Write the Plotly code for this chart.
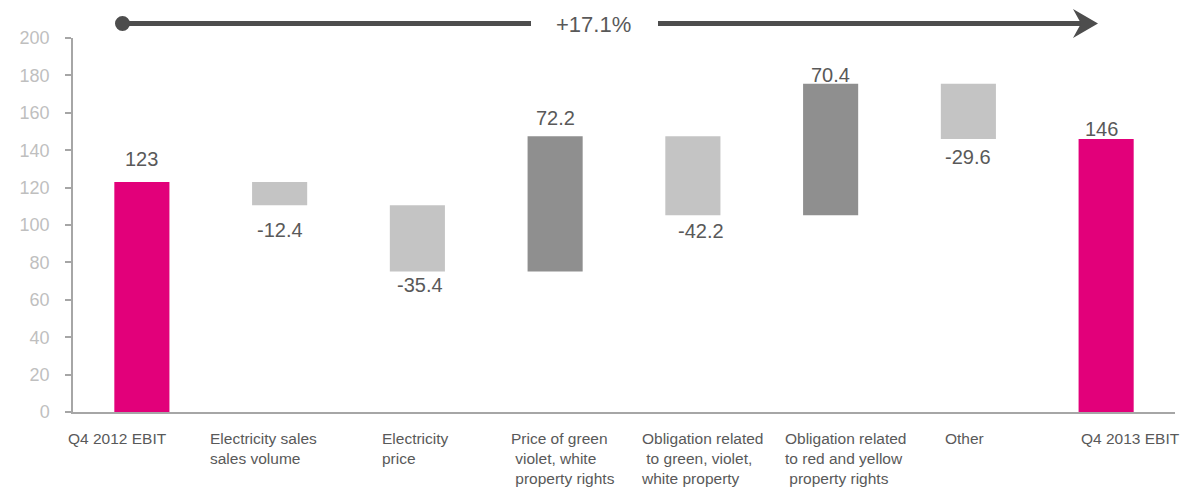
import plotly.graph_objects as go

# ---- data ----
categories = [
    "Q4 2012 EBIT",
    "Electricity sales<br>sales volume",
    "Electricity<br>price",
    "Price of green<br>\u00a0violet, white<br>\u00a0property rights",
    "Obligation related<br>\u00a0to green, violet,<br>white property",
    "Obligation related<br>to red and yellow<br>\u00a0property rights",
    "Other",
    "Q4 2013 EBIT",
]
values = [123, -12.4, -35.4, 72.2, -42.2, 70.4, -29.6, 146]
measures = ["absolute", "relative", "relative", "relative", "relative", "relative", "relative", "total"]
value_labels = ["123", "-12.4", "-35.4", "72.2", "-42.2", "70.4", "-29.6", "146"]
change_label = "+17.1%"
y_ticks = list(range(0, 201, 20))

# ---- styles ----
FONT = "Arial, Liberation Sans, sans-serif"
MAGENTA = "#E2007A"
DARK = "#8F8F8F"
LIGHT = "#C4C4C4"
TEXT = "#595959"
AXIS = "#A6A6A6"
ARROW = "#4D4D4D"

# per-label fine offsets (pixels) to mimic the original placement
label_yshift = [10, -12, -1, 5, -3, -4, -5, -3]
label_xshift = [0, 0, 3, 0, 8, 0, 0, -5]
cat_xshift = [-76, -72, -37, -46, -54, -48, -25, -27]

# page has an 8px body margin; size the figure so it ends at the window edge
PAGE = 8
W, H = 1191, 488
ML, MR, MT, MB = 73 - PAGE, 16, 38 - PAGE, 76
PL, PR, PT, PB = 73, W - MR, 38, H - MB   # plot area in window pixels


def px(xp):
    return (xp - PL) / (PR - PL)


def py(yp):
    return (PB - yp) / (PB - PT)


fig = go.Figure()
fig.add_trace(go.Waterfall(
    x=list(range(len(categories))),
    y=values,
    measure=measures,
    textposition="none",
    connector=dict(visible=False),
    increasing=dict(marker=dict(color=DARK, line=dict(width=0))),
    decreasing=dict(marker=dict(color=LIGHT, line=dict(width=0))),
    totals=dict(marker=dict(color=MAGENTA, line=dict(width=0))),
    hoverinfo="skip",
))

annotations = []
# value labels computed from the running total
running = 0
for i, (v, m, lab) in enumerate(zip(values, measures, value_labels)):
    if m == "absolute":
        start, end = 0, v
        running = v
    elif m == "total":
        start, end = 0, running
    else:
        start, end = running, running + v
        running = end
    up = end >= start
    annotations.append(dict(x=i, y=end, xref="x", yref="y", text=lab, showarrow=False,
                            yanchor="bottom" if up else "top", xanchor="center",
                            yshift=label_yshift[i], xshift=label_xshift[i],
                            font=dict(family=FONT, size=20, color=TEXT)))

# category labels
for i, c in enumerate(categories):
    annotations.append(dict(x=i, y=0, xref="x", yref="paper", text=c, showarrow=False,
                            xanchor="left", yanchor="top", align="left",
                            xshift=cat_xshift[i], yshift=-16,
                            font=dict(family=FONT, size=15.5, color=TEXT)))

# top change label
annotations.append(dict(x=px(593), y=py(24), xref="paper", yref="paper", text=change_label,
                        showarrow=False, xanchor="center", yanchor="middle",
                        font=dict(family=FONT, size=22, color=TEXT)))

ay = 23.5
shapes = [
    dict(type="line", xref="paper", yref="paper", x0=px(122.5), x1=px(531), y0=py(ay), y1=py(ay),
         line=dict(color=ARROW, width=5)),
    dict(type="line", xref="paper", yref="paper", x0=px(658), x1=px(1084), y0=py(ay), y1=py(ay),
         line=dict(color=ARROW, width=5)),
    dict(type="circle", xref="paper", yref="paper", x0=px(115), x1=px(130), y0=py(ay + 7.5), y1=py(ay - 7.5),
         fillcolor=ARROW, line=dict(width=0)),
    dict(type="path", xref="paper", yref="paper",
         path=f"M {px(1073)},{py(ay - 14.5)} L {px(1098)},{py(ay)} L {px(1073)},{py(ay + 14.5)} L {px(1081)},{py(ay)} Z",
         fillcolor=ARROW, line=dict(width=0)),
]

fig.update_layout(
    width=W - PAGE, height=H - PAGE,
    margin=dict(l=ML, r=MR, t=MT, b=MB),
    paper_bgcolor="white", plot_bgcolor="white",
    showlegend=False,
    waterfallgap=0.6,
    annotations=annotations,
    shapes=shapes,
    font=dict(family=FONT),
)
fig.update_xaxes(range=[-0.5, len(categories) - 0.5], showticklabels=False, ticks="",
                 showline=True, linecolor=AXIS, linewidth=1.5, showgrid=False, zeroline=False)
fig.update_yaxes(range=[0, 200], tickvals=y_ticks, ticks="outside", ticklen=6, tickwidth=1.5,
                 tickcolor=AXIS, showline=True, linecolor=AXIS, linewidth=1.5, showgrid=False,
                 zeroline=False, ticklabelstandoff=12,
                 tickfont=dict(family=FONT, size=18, color="#BFBFBF"))

fig.write_html("out.html")
